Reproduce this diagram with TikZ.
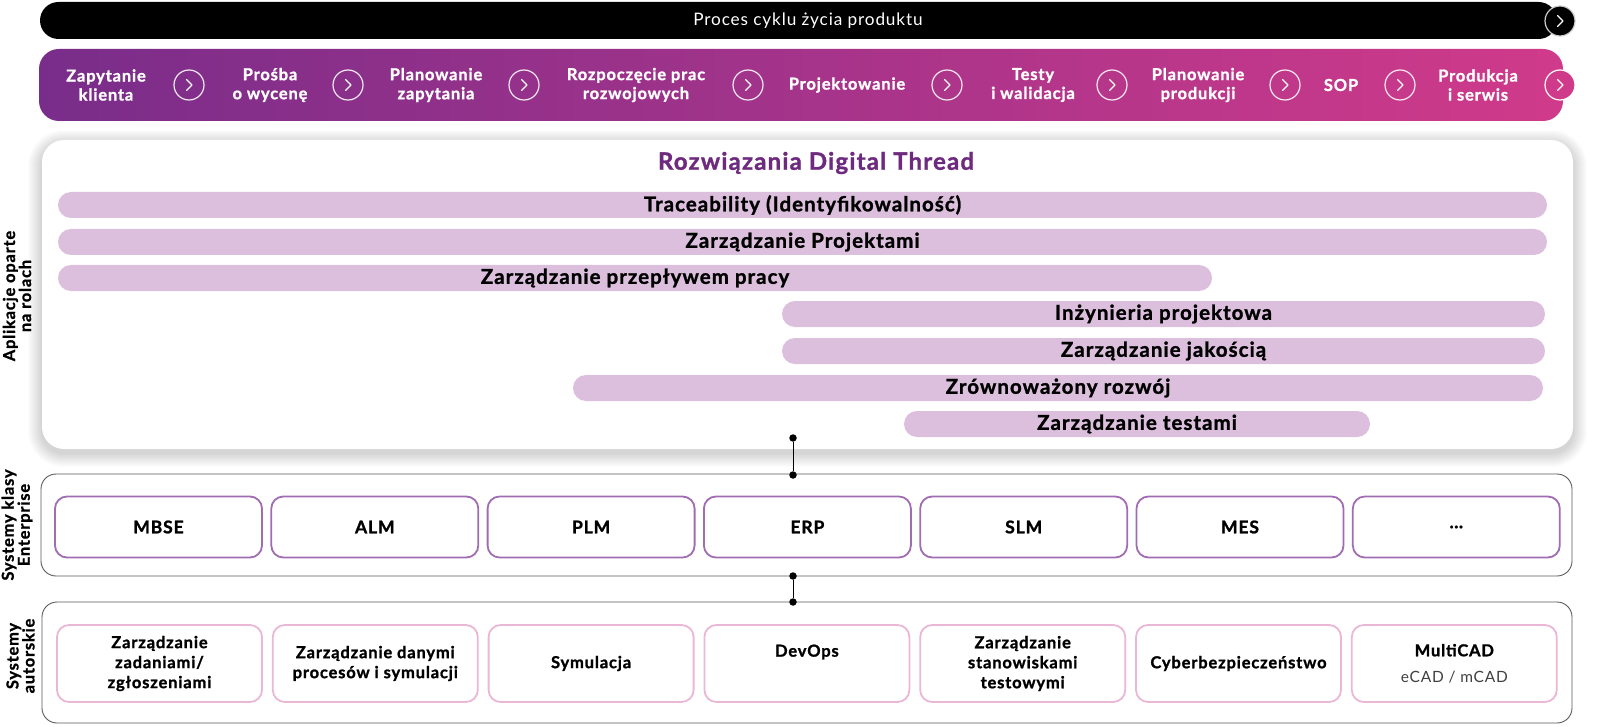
\documentclass[tikz,border=0pt]{standalone}
\usepackage{fontspec}
\setmainfont{Lato}[LetterSpace=5, BoldFeatures={FakeBold=1.2}]
\definecolor{barL}{HTML}{792D8A}
\definecolor{barR}{HTML}{D03A8A}
\definecolor{lav}{HTML}{DBBFDD}
\definecolor{titlepurple}{HTML}{6E2A7F}
\definecolor{entborder}{HTML}{A06CB2}
\definecolor{authborder}{HTML}{EBB7D6}
\definecolor{contborder}{HTML}{5A5A5A}
\begin{document}
\begin{tikzpicture}[x=1pt,y=-1pt,
  stage/.style={text=white, font=\bfseries\fontsize{16.5}{19}\selectfont, align=center, inner sep=0},
  chev/.style={circle, draw=white, line width=1.2pt, minimum size=30pt, inner sep=0},
  chevline/.style={white, line width=1.3pt, line cap=round, line join=round},
  lbar/.style={fill=lav, rounded corners=13pt, minimum height=26pt, inner sep=0, font=\bfseries\fontsize{20.5}{22}\selectfont},
  vlabel/.style={rotate=90, align=center, font=\bfseries\fontsize{16.4}{16}\selectfont, inner sep=0},
  container/.style={draw=contborder, line width=0.9pt, rounded corners=15pt, fill=white, inner sep=0},
  entbox/.style={draw=entborder, line width=1.8pt, rounded corners=12pt, minimum width=207pt, minimum height=61pt, inner sep=0, font=\bfseries\fontsize{17.5}{20}\selectfont},
  authbox/.style={draw=authborder, line width=1.8pt, rounded corners=12pt, minimum width=205pt, minimum height=77pt, inner sep=0, align=center, font=\bfseries\fontsize{16.5}{20}\selectfont},
  atext/.style={align=center, font=\bfseries\fontsize{16.5}{20}\selectfont, inner sep=0},
  dot/.style={circle, fill=black, minimum size=7.5pt, inner sep=0},
  link/.style={draw=black, line width=1pt}
]
\useasboundingbox (0,0) rectangle (1600,727);
\fill[white] (0,0) rectangle (1600,727);

% lifecycle bar
\node[fill=black, rounded corners=18.5pt, minimum width=1517pt, minimum height=37pt, inner sep=0] (life) at (798.5,20.5) {};
\node[text=white, font=\fontsize{17.2}{20}\selectfont, inner sep=0] (lifetext) at (808,21) {Proces cyklu życia produktu};
\node[circle, fill=black, draw=black!20, line width=1.2pt, minimum size=30pt, inner sep=0] (lifec) at (1560,21) {};
\draw[chevline] (lifec.center) ++(-2.5,-5.5) -- ++(5.5,5.5) -- ++(-5.5,5.5);

% stage bar
\node[left color=barL, right color=barR, rounded corners=20pt, minimum width=1524pt, minimum height=72pt, inner sep=0] (stages) at (801,85) {};
\node[stage] (t1) at (106,85) {Zapytanie\\klienta};
\node[stage] (t2) at (270,85) {Prośba\\o wycenę};
\node[stage] (t3) at (436,85) {Planowanie\\zapytania};
\node[stage] (t4) at (636,85) {Rozpoczęcie prac\\rozwojowych};
\node[stage] (t5) at (847,85) {Projektowanie};
\node[stage] (t6) at (1033,85) {Testy\\i walidacja};
\node[stage] (t7) at (1198,85) {Planowanie\\produkcji};
\node[stage] (t8) at (1341,85) {SOP};
\node[stage] (t9) at (1478,85) {Produkcja\\i serwis};
\foreach \cx [count=\k] in {189,348,524,748,947,1112,1285,1400} {
  \node[chev, draw opacity=0.9] (s\k) at (\cx,85) {};
  \draw[chevline] (s\k.center) ++(-2.5,-5.5) -- ++(5.5,5.5) -- ++(-5.5,5.5);
}
\node[chev, fill=barR] (s9) at (1560,85) {};
\draw[chevline] (s9.center) ++(-2.5,-5.5) -- ++(5.5,5.5) -- ++(-5.5,5.5);

% card shadow
\foreach \i in {1,2,...,14} {
  \pgfmathsetmacro{\rc}{22+\i}
  \fill[black, opacity=0.011, rounded corners=\rc pt] (42-\i,144-\i) rectangle (1573+\i,453+\i);
}
\node[fill=white, rounded corners=22pt, minimum width=1531pt, minimum height=309pt, inner sep=0] (card) at (807.5,294.5) {};
\node[text=titlepurple, font=\bfseries\fontsize{24}{26}\selectfont, inner sep=0] (title) at (816,163) {Rozwiązania Digital Thread};

\node[lbar, minimum width=1489pt] (b1) at (802.5,205) {Traceability (Identyfikowalność)};
\node[lbar, minimum width=1489pt] (b2) at (802.5,242) {Zarządzanie Projektami};
\node[lbar, minimum width=1154pt] (b3) at (635,278) {Zarządzanie przepływem pracy};
\node[lbar, minimum width=763pt] (b4) at (1163.5,314) {Inżynieria projektowa};
\node[lbar, minimum width=763pt] (b5) at (1163.5,351) {Zarządzanie jakością};
\node[lbar, minimum width=970pt] (b6) at (1058,388) {Zrównoważony rozwój};
\node[lbar, minimum width=466pt] (b7) at (1137,424) {Zarządzanie testami};

% side labels
\node[vlabel] (l1) at (17,296) {Aplikacje oparte\\na rolach};
\node[vlabel] (l2) at (17,525) {Systemy klasy\\Enterprise};
\node[vlabel] (l3) at (20.5,656) {Systemy\\autorskie};

% containers
\node[container, minimum width=1531pt, minimum height=102pt] (ent) at (806.5,525) {};
\node[container, minimum width=1530pt, minimum height=121pt] (auth) at (807,662.5) {};

% enterprise systems
\node[entbox] (e1) at (158.5,527) {MBSE};
\node[entbox] (e2) at (374.8,527) {ALM};
\node[entbox] (e3) at (591.1,527) {PLM};
\node[entbox] (e4) at (807.4,527) {ERP};
\node[entbox] (e5) at (1023.7,527) {SLM};
\node[entbox] (e6) at (1240.0,527) {MES};
\node[entbox] (e7) at (1456.3,527) {\ldots};

% authoring systems
\node[authbox] (a1) at (159.5,663.5) {Zarządzanie\\zadaniami/\\zgłoszeniami};
\node[authbox] (a2) at (375.3,663.5) {Zarządzanie danymi\\procesów i symulacji};
\node[authbox] (a3) at (591.1,663.5) {Symulacja};
\node[authbox] (a4) at (806.9,663.5) {};
\node[atext] (a4t) at (806.9,652) {DevOps};
\node[authbox] (a5) at (1022.7,663.5) {Zarządzanie\\stanowiskami\\testowymi};
\node[authbox] (a6) at (1238.5,663.5) {Cyberbezpieczeństwo};
\node[authbox] (a7) at (1454.3,663.5) {MultiCAD\\[6pt]{\mdseries\fontsize{15.5}{18}\selectfont\color{black!75}eCAD / mCAD}};

% connectors
\node[dot] (d1) at (793,438) {};
\node[dot] (d2) at (793,475) {};
\node[dot] (d3) at (793,576) {};
\node[dot] (d4) at (793,602) {};
\draw[link] (d1) -- (d2);
\draw[link] (d3) -- (d4);
\end{tikzpicture}
\end{document}
